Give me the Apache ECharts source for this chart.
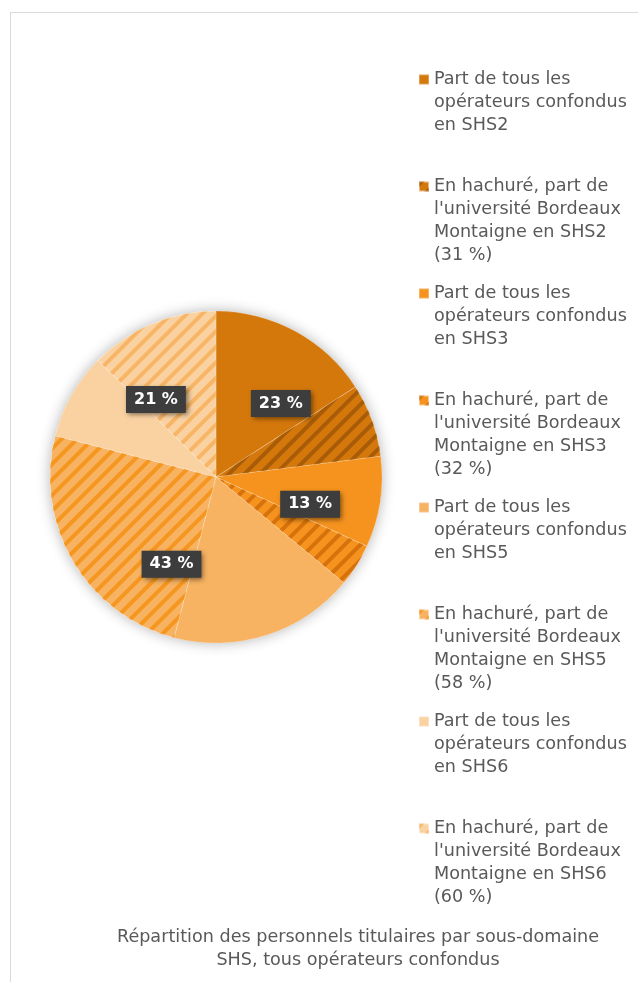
<!DOCTYPE html>
<html>
<head>
<meta charset="utf-8">
<script src="https://cdn.jsdelivr.net/npm/echarts@6/dist/echarts.min.js"></script>
<style>
  html, body { margin: 0; padding: 0; background: #fff; }
  #frame { position: absolute; left: 10px; top: 12px; width: 640px; height: 990px; border: 1px solid #d9d9d9; box-sizing: border-box; }
  #chart { position: absolute; left: 0; top: 0; width: 638px; height: 982px; }
</style>
</head>
<body>
<div id="frame"></div>
<div id="chart"></div>
<script>
// données
const domains = ['SHS2', 'SHS3', 'SHS5', 'SHS6']
const totals = [23, 13, 43, 21]       // part de tous les opérateurs confondus (%)
const ubmShares = [31, 32, 58, 60]    // part de l'université Bordeaux Montaigne dans chaque sous-domaine (%)

const baseColors = ['#d4780c', '#f5931e', '#f7b262', '#fad2a2']
const hatchColors = ['#a85c08', '#d6720c', '#f5961e', '#f7b565']

const FONT = 'DejaVu Sans'

let slices = []
let legendNames = []
domains.forEach((d, i) => {
  const hatched = totals[i] * ubmShares[i] / 100
  const solid = totals[i] - hatched
  const n1 = 'Part de tous les\nopérateurs confondus\nen ' + d
  const n2 = "En hachuré, part de\nl'université Bordeaux\nMontaigne en " + d + '\n(' + ubmShares[i] + ' %)'
  legendNames.push(n1, n2)
  slices.push({ name: n1, value: solid, itemStyle: { color: baseColors[i] } })
  slices.push({
    name: n2, value: hatched,
    itemStyle: {
      color: baseColors[i],
      decal: {
        symbol: 'rect', symbolSize: 1, color: hatchColors[i],
        dashArrayX: [1, 0], dashArrayY: [4, 7], rotation: -Math.PI / 4
      }
    }
  })
})

const chart = echarts.init(document.getElementById('chart'))
chart.setOption({
  animation: false,
  title: {
    text: 'Répartition des personnels titulaires par sous-domaine\nSHS, tous opérateurs confondus',
    left: 353,
    textAlign: 'center',
    top: 921,
    textStyle: { fontFamily: FONT, fontSize: 17.6, fontWeight: 'normal', color: '#595959', lineHeight: 23 }
  },
  legend: {
    orient: 'vertical',
    left: 418,
    top: -1,
    padding: 0,
    itemWidth: 10,
    itemHeight: 10,
    itemGap: -54,
    icon: 'rect',
    data: legendNames,
    formatter: name => {
      // premiere ligne alignée sur le carré
      const lines = name.split('\n').length
      return '\n\n\n' + name + (lines < 4 ? '\n' : '')
    },
    textStyle: { fontFamily: FONT, fontSize: 17.6, lineHeight: 23, color: '#595959' }
  },
  series: [
    {
      // ombre du disque
      type: 'pie',
      silent: true,
      center: [216, 477],
      radius: 166,
      label: { show: false },
      itemStyle: { color: '#fff', shadowBlur: 14, shadowColor: 'rgba(0,0,0,0.3)' },
      data: [{ value: 1, name: '' }],
      z: 1
    },
    {
      type: 'pie',
      center: [216, 477],
      radius: 166,
      startAngle: 90,
      clockwise: true,
      label: { show: false },
      itemStyle: { borderColor: 'rgba(255,255,255,0.3)', borderWidth: 0.5 },
      data: slices,
      z: 2
    },
    {
      // étiquettes des totaux
      type: 'pie',
      silent: true,
      center: [216, 477],
      radius: 190,
      startAngle: 90,
      itemStyle: { color: 'rgba(0,0,0,0)' },
      label: {
        show: true,
        position: 'inside',
        formatter: '{c} %',
        fontFamily: FONT,
        fontSize: 16,
        fontWeight: 'bold',
        color: '#fff',
        backgroundColor: '#3d3d3d',
        padding: [6, 8, 5, 8],
        shadowBlur: 5,
        shadowColor: 'rgba(0,0,0,0.5)',
        shadowOffsetX: 2,
        shadowOffsetY: 2
      },
      data: domains.map((d, i) => ({ name: d, value: totals[i] })),
      z: 3
    }
  ]
})
</script>
</body>
</html>
